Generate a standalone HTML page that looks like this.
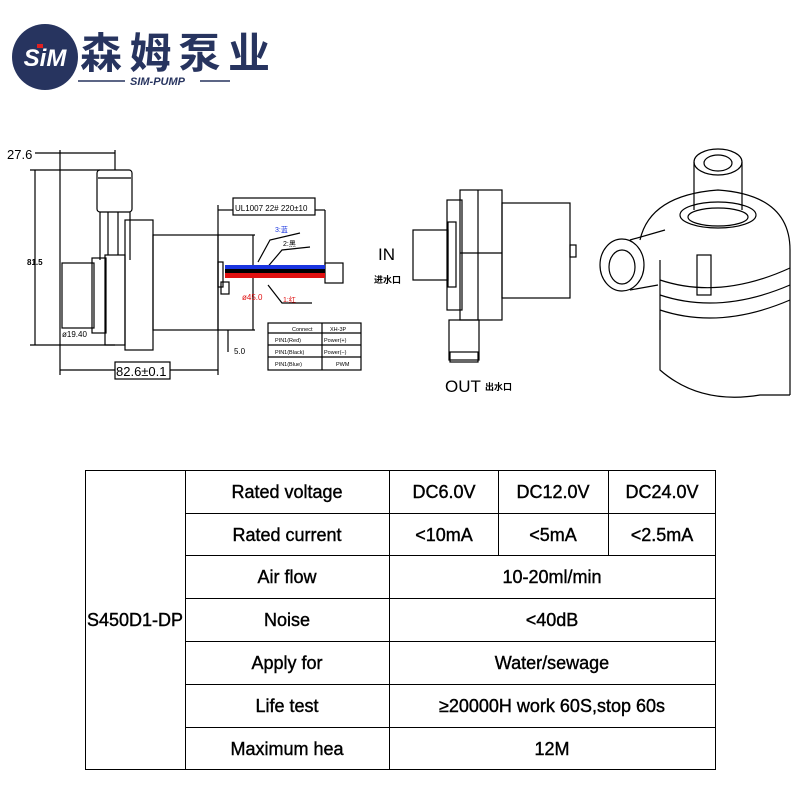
<!DOCTYPE html>
<html><head><meta charset="utf-8"><style>
body{margin:0;background:#fff;width:800px;height:800px;overflow:hidden;position:relative;font-family:"Liberation Sans","Noto Sans CJK SC",sans-serif}
svg{position:absolute;left:0;top:0}
</style></head><body>
<svg width="800" height="800" viewBox="0 0 800 800" font-family="Liberation Sans, Noto Sans CJK SC, sans-serif">
<!-- logo -->
<circle cx="45" cy="57" r="33" fill="#27345f"/>
<text x="45" y="66" font-size="24" font-weight="bold" font-style="italic" fill="#fff" text-anchor="middle">SiM</text>
<rect x="37" y="44" width="6" height="4" fill="#e02020"/>
<text x="80" y="68" font-size="42" font-weight="bold" fill="#27345f" font-family="Noto Sans CJK SC, sans-serif" textLength="190">森姆泵业</text>
<line x1="78" y1="81" x2="125" y2="81" stroke="#27345f" stroke-width="1.5"/>
<line x1="200" y1="81" x2="230" y2="81" stroke="#27345f" stroke-width="1.5"/>
<text x="130" y="85" font-size="11" font-weight="bold" font-style="italic" fill="#27345f">SIM-PUMP</text>

<g stroke="#000" fill="none" stroke-width="1.2">
<!-- left drawing -->
<line x1="35" y1="153" x2="115" y2="153"/>
<line x1="60" y1="150" x2="60" y2="375"/>
<line x1="115" y1="150" x2="115" y2="170"/>
<line x1="35" y1="170" x2="35" y2="345"/>
<line x1="30" y1="170" x2="100" y2="170"/>
<line x1="30" y1="345" x2="115" y2="345"/>
<rect x="97" y="170" width="35" height="42" rx="3"/>
<line x1="98" y1="178" x2="131" y2="178"/>
<path d="M100 212 L100 260 M130 212 L130 260 M108 212 L108 255 M118 212 L118 255"/>
<rect x="125" y="220" width="28" height="130"/>
<rect x="105" y="255" width="20" height="90"/>
<rect x="92" y="258" width="14" height="75"/>
<rect x="62" y="263" width="32" height="65"/>
<rect x="153" y="235" width="65" height="95"/>
<line x1="218" y1="235" x2="255" y2="235"/>
<line x1="218" y1="330" x2="255" y2="330"/>
<line x1="253" y1="235" x2="253" y2="330"/>
<rect x="218" y="262" width="5" height="25"/>
<rect x="221" y="282" width="8" height="12"/>
<line x1="218" y1="205" x2="218" y2="375"/>
<line x1="228" y1="330" x2="228" y2="352"/>
<line x1="60" y1="370" x2="218" y2="370"/>
<rect x="115" y="362" width="55" height="17" fill="#fff"/>
<rect x="233" y="198" width="82" height="17"/>
<line x1="218" y1="210" x2="233" y2="210"/>
<line x1="315" y1="210" x2="325" y2="210"/>
<line x1="325" y1="210" x2="325" y2="265"/>
<path d="M258 262 L270 240 L300 233 M265 270 L282 250 L310 247 M268 285 L282 303 L312 303"/>
<rect x="325" y="263" width="18" height="20"/>
<rect x="268" y="323" width="93" height="47"/>
<line x1="268" y1="333" x2="361" y2="333"/>
<line x1="268" y1="345" x2="361" y2="345"/>
<line x1="268" y1="357" x2="361" y2="357"/>
<line x1="322" y1="323" x2="322" y2="370"/>
<!-- middle drawing -->
<rect x="460" y="190" width="42" height="130"/>
<line x1="478" y1="190" x2="478" y2="320"/>
<rect x="447" y="200" width="15" height="110"/>
<rect x="502" y="203" width="68" height="95"/>
<rect x="570" y="245" width="6" height="12"/>
<rect x="413" y="230" width="35" height="50"/>
<rect x="448" y="222" width="8" height="65"/>
<line x1="460" y1="253" x2="502" y2="253"/>
<rect x="449" y="320" width="30" height="40"/>
<rect x="450" y="352" width="28" height="10"/>
<!-- 3D pump -->
<ellipse cx="718" cy="162" rx="24" ry="13"/>
<ellipse cx="718" cy="163" rx="14" ry="8"/>
<line x1="694" y1="162" x2="694" y2="210"/>
<line x1="742" y1="162" x2="742" y2="210"/>
<ellipse cx="718" cy="215" rx="38" ry="13"/>
<ellipse cx="718" cy="217" rx="30" ry="9"/>
<path d="M640 240 Q650 195 718 190 Q790 195 790 250"/>
<path d="M660 260 L660 330 M790 250 L790 395"/>
<path d="M660 320 L660 370 Q700 405 760 395 L790 395"/>
<path d="M660 280 Q720 300 790 268 M660 295 Q720 315 790 285 M660 310 Q720 330 790 300"/>
<rect x="697" y="255" width="14" height="40"/>
<ellipse cx="622" cy="265" rx="22" ry="26"/>
<ellipse cx="622" cy="267" rx="13" ry="17"/>
<path d="M630 240 L665 230 M630 290 L658 285"/>
</g>
<!-- wires -->
<rect x="225" y="265" width="100" height="4" fill="#1a35e0"/>
<rect x="225" y="269" width="100" height="4" fill="#000"/>
<rect x="225" y="273" width="100" height="5" fill="#e01010"/>
<g font-size="9" fill="#000">
<text x="7" y="159" font-size="13">27.6</text>
<text x="27" y="265" font-size="8" font-weight="bold">81.5</text>
<text x="62" y="337" font-size="8">ø19.40</text>
<text x="116" y="376" font-size="13">82.6±0.1</text>
<text x="234" y="354" font-size="8">5.0</text>
<text x="235" y="211" font-size="8">UL1007 22# 220±10</text>
<text x="275" y="232" font-size="7" fill="#1a35e0">3:蓝</text>
<text x="283" y="246" font-size="7">2:黑</text>
<text x="283" y="302" font-size="7" fill="#e01010">1:红</text>
<text x="242" y="300" font-size="8" fill="#e01010">ø45.0</text>
<g font-size="5.5"><text x="292" y="331">Connect</text><text x="330" y="331">XH-3P</text>
<text x="275" y="342">PIN1(Red)</text><text x="324" y="342">Power(+)</text>
<text x="275" y="354">PIN1(Black)</text><text x="324" y="354">Power(−)</text>
<text x="275" y="366">PIN1(Blue)</text><text x="336" y="366">PWM</text></g>
<text x="378" y="260" font-size="17">IN</text>
<text x="374" y="283" font-size="9" font-weight="bold" font-family="Noto Sans CJK SC, sans-serif">进水口</text>
<text x="445" y="392" font-size="17">OUT</text>
<text x="485" y="390" font-size="9" font-weight="bold" font-family="Noto Sans CJK SC, sans-serif">出水口</text>
</g>
<!-- table -->
<g stroke="#000" stroke-width="1" fill="none">
<rect x="85.5" y="470.5" width="630" height="299"/>
<line x1="185.5" y1="470" x2="185.5" y2="770"/>
<line x1="389.5" y1="470" x2="389.5" y2="770"/>
<line x1="498.5" y1="470" x2="498.5" y2="555"/>
<line x1="608.5" y1="470" x2="608.5" y2="555"/>
<line x1="185" y1="513.5" x2="716" y2="513.5"/>
<line x1="185" y1="555.5" x2="716" y2="555.5"/>
<line x1="185" y1="598.5" x2="716" y2="598.5"/>
<line x1="185" y1="641.5" x2="716" y2="641.5"/>
<line x1="185" y1="684.5" x2="716" y2="684.5"/>
<line x1="185" y1="727.5" x2="716" y2="727.5"/>
</g>
<g font-size="18" fill="#000" text-anchor="middle" stroke="#000" stroke-width="0.4">
<text x="135" y="626">S450D1-DP</text>
<text x="287" y="498">Rated voltage</text>
<text x="287" y="541">Rated current</text>
<text x="287" y="583">Air flow</text>
<text x="287" y="626">Noise</text>
<text x="287" y="669">Apply for</text>
<text x="287" y="712">Life test</text>
<text x="287" y="755">Maximum hea</text>
<text x="444" y="498">DC6.0V</text><text x="553" y="498">DC12.0V</text><text x="662" y="498">DC24.0V</text>
<text x="444" y="541">&lt;10mA</text><text x="553" y="541">&lt;5mA</text><text x="662" y="541">&lt;2.5mA</text>
<text x="552" y="583">10-20ml/min</text>
<text x="552" y="626">&lt;40dB</text>
<text x="552" y="669">Water/sewage</text>
<text x="552" y="712">≥20000H work 60S,stop 60s</text>
<text x="552" y="755">12M</text>
</g>
</svg>
</body></html>
